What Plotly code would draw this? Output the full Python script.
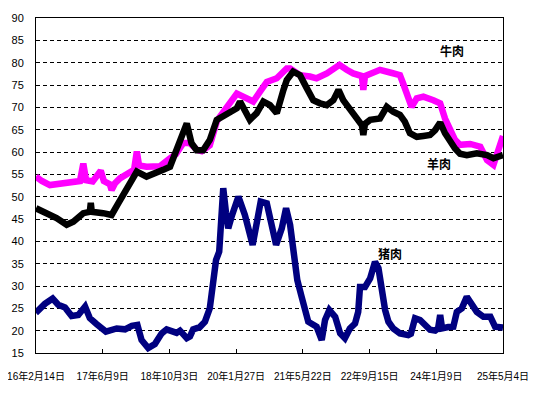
import plotly.graph_objects as go

# ---- data ----
beef_dates = ["2016-02-14","2016-03-27","2016-05-24","2016-08-26","2016-11-07","2016-12-27","2017-01-20","2017-02-09",
              "2017-03-29","2017-05-26","2017-06-17","2017-07-30","2017-08-12","2017-09-06","2017-10-11","2017-12-22",
              "2018-01-21","2018-02-10","2018-02-26","2018-04-21","2018-07-26","2018-10-07","2018-11-19","2019-01-11",
              "2019-02-28","2019-04-19","2019-05-24","2019-07-21","2019-09-11","2019-11-20","2020-02-01","2020-03-18",
              "2020-05-29","2020-07-17","2020-09-04","2020-11-15","2021-01-26","2021-02-19","2021-05-01","2021-07-12",
              "2021-08-29","2021-11-11","2021-12-28","2022-02-10","2022-04-03","2022-05-20","2022-07-22","2022-08-01",
              "2022-08-13","2022-09-19","2022-11-29","2023-02-10","2023-04-22","2023-05-13","2023-06-10","2023-07-15",
              "2023-08-21","2023-10-08","2023-12-19","2024-02-06","2024-03-12","2024-04-17","2024-05-23","2024-06-28",
              "2024-09-10","2024-11-21","2025-01-09","2025-02-24","2025-03-20","2025-04-25","2025-05-04"]
beef_values = [54.5,53.5,52.6,53.1,53.4,53.5,57.4,53.7,
               53.4,55.8,53.5,52.8,51.5,53.0,54.1,55.2,
               56.0,60.1,57.0,56.7,56.8,58.6,59.5,62.0,
               62.0,60.5,60.2,61.5,67.0,70.0,73.1,72.4,
               71.3,73.5,75.7,76.5,78.7,78.7,77.2,76.9,
               76.5,77.6,78.4,79.5,78.4,77.6,77.0,73.9,
               77.0,77.6,78.4,77.8,77.2,75.5,73.1,70.1,
               72.0,72.4,71.6,70.9,67.5,64.9,62.7,61.6,
               61.8,61.2,58.2,57.1,59.7,63.0,63.6]

mutton_dates = ["2016-02-14","2016-04-29","2016-07-11","2016-09-22","2016-11-09","2017-01-20","2017-03-08","2017-03-15",
                "2017-03-22","2017-06-12","2017-08-12","2017-09-29","2017-11-29","2018-02-10","2018-04-21","2018-07-02",
                "2018-08-19","2018-10-07","2018-11-24","2019-01-11","2019-02-05","2019-03-11","2019-04-17","2019-06-03",
                "2019-07-21","2019-09-09","2019-11-20","2020-02-01","2020-02-24","2020-05-05","2020-06-23","2020-08-10",
                "2020-09-27","2020-11-15","2021-01-02","2021-01-26","2021-03-13","2021-05-01","2021-06-19","2021-08-05",
                "2021-09-23","2021-11-11","2021-12-28","2022-02-03","2022-03-09","2022-04-26","2022-06-14","2022-07-22",
                "2022-08-01","2022-08-13","2022-09-19","2022-11-29","2023-01-17","2023-03-04","2023-04-22","2023-05-27",
                "2023-07-03","2023-08-21","2023-10-08","2023-11-25","2024-01-01","2024-02-06","2024-03-12","2024-04-17",
                "2024-05-23","2024-06-28","2024-08-16","2024-10-27","2025-01-09","2025-02-24","2025-04-13","2025-05-04"]
mutton_values = [47.4,46.4,45.2,43.7,44.4,46.3,46.6,48.6,
                 46.6,46.3,45.9,48.5,51.5,55.6,54.5,55.2,
                 56.0,56.7,60.4,64.2,66.4,62.0,60.4,60.4,
                 62.7,67.2,68.3,69.8,71.3,67.2,68.7,71.3,
                 70.5,68.7,73.9,76.1,78.0,77.2,74.3,71.6,
                 70.9,70.5,71.6,73.9,71.6,69.4,67.2,66.0,
                 63.8,66.3,67.2,67.5,70.1,69.0,68.3,66.8,
                 64.2,63.4,63.6,63.8,64.9,66.6,64.2,62.3,
                 60.8,59.6,59.3,59.7,59.3,58.6,59.1,59.3]

pork_dates = ["2016-02-14","2016-02-29","2016-04-18","2016-06-13","2016-07-23","2016-09-10","2016-10-28","2016-12-15",
              "2017-02-02","2017-03-08","2017-04-25","2017-07-02","2017-09-18","2017-11-17","2018-01-05","2018-02-14",
              "2018-03-16","2018-05-03","2018-06-20","2018-08-08","2018-09-13","2018-11-24","2018-12-18","2019-02-05",
              "2019-02-28","2019-03-23","2019-05-10","2019-06-16","2019-07-21","2019-08-15","2019-09-04","2019-09-27",
              "2019-10-10","2019-10-26","2019-11-15","2019-12-01","2019-12-26","2020-02-12","2020-03-30","2020-04-30",
              "2020-05-25","2020-06-23","2020-07-22","2020-09-04","2020-10-10","2020-11-10","2020-12-21","2021-01-21",
              "2021-02-19","2021-03-13","2021-04-12","2021-05-13","2021-06-07","2021-06-30","2021-08-29","2021-10-05",
              "2021-10-29","2021-11-29","2022-01-10","2022-02-15","2022-03-21","2022-04-26","2022-06-02","2022-06-25",
              "2022-07-08","2022-08-13","2022-09-19","2022-10-24","2022-11-18","2022-12-12","2023-01-05","2023-01-29",
              "2023-03-04","2023-04-22","2023-06-21","2023-07-10","2023-08-09","2023-09-14","2023-10-20","2023-11-25",
              "2024-01-01","2024-01-22","2024-02-06","2024-02-20","2024-04-05","2024-05-11","2024-06-05","2024-07-11",
              "2024-08-16","2024-09-22","2024-10-27","2024-12-14","2025-02-02","2025-03-08","2025-04-25","2025-05-04"]
pork_values = [25.0,24.5,26.0,27.2,25.8,25.2,23.3,23.5,
               25.4,22.8,21.5,19.8,20.5,20.3,21.1,21.3,
               17.9,16.1,17.0,19.4,20.3,19.5,20.0,18.3,
               18.7,20.3,20.8,22.0,25.0,30.6,35.8,37.7,
               43.3,51.9,46.3,42.9,45.6,50.0,45.9,42.5,
               39.2,44.0,48.9,48.5,43.7,39.2,42.9,47.4,
               43.7,37.3,31.3,27.6,24.6,22.0,20.9,17.9,
               22.4,24.6,23.1,19.4,18.3,20.5,21.6,24.2,
               29.8,29.8,31.7,35.4,34.0,29.1,24.6,22.0,
               20.5,19.4,19.0,19.3,22.8,22.4,21.3,20.2,
               20.0,20.5,23.5,20.5,20.8,20.9,24.2,25.0,
               27.6,25.8,24.2,23.1,23.1,20.9,20.5,20.7]

tick_dates = ["2016-02-14","2017-06-09","2018-10-03","2020-01-27","2021-05-22","2022-09-15","2024-01-09","2025-05-04"]
tick_labels = ["16年2月14日","17年6月9日","18年10月3日","20年1月27日","21年5月22日","22年9月15日","24年1月9日","25年5月4日"]
y_ticks = list(range(15, 91, 5))

series_names = ["牛肉", "羊肉", "猪肉"]

fig = go.Figure()
fig.add_trace(go.Scatter(x=beef_dates, y=beef_values, mode="lines", name=series_names[0],
                         line=dict(color="#FF00FF", width=6.5)))
fig.add_trace(go.Scatter(x=mutton_dates, y=mutton_values, mode="lines", name=series_names[1],
                         line=dict(color="#000000", width=6.5)))
fig.add_trace(go.Scatter(x=pork_dates, y=pork_values, mode="lines", name=series_names[2],
                         line=dict(color="#000080", width=6.5)))

lab_font = dict(family="Noto Sans CJK SC", size=12, color="#000000")
fig.add_annotation(x="2024-04-28", y=82.8, text="<b>牛肉</b>", showarrow=False, font=lab_font)
fig.add_annotation(x="2024-01-26", y=57.5, text="<b>羊肉</b>", showarrow=False, font=lab_font)
fig.add_annotation(x="2023-02-07", y=37.3, text="<b>猪肉</b>", showarrow=False, font=lab_font)

# the page body has an 8px margin, so the figure is sized to fit the window
fig.update_layout(
    width=546, height=386,
    margin=dict(l=28, r=51, t=10, b=41),
    paper_bgcolor="white", plot_bgcolor="white",
    showlegend=False,
    font=dict(family="Liberation Sans", size=11, color="#000000"),
)
fig.update_xaxes(
    type="date", range=["2016-02-14", "2025-05-04"], automargin=False,
    tickmode="array", tickvals=tick_dates, ticktext=tick_labels,
    ticks="inside", ticklen=4, tickcolor="black", tickwidth=1,
    showline=True, linecolor="black", linewidth=1, mirror=True,
    showgrid=False, zeroline=False, ticklabelstandoff=14,
    ticklabeloverflow="allow",
    tickfont=dict(family="Liberation Sans, Noto Sans CJK SC", size=10),
)
fig.update_yaxes(
    range=[15, 90], tickmode="array", tickvals=y_ticks, automargin=False,
    ticks="", showline=True, linecolor="black", linewidth=1, mirror=True,
    showgrid=True, gridcolor="black", gridwidth=1, griddash="4px,3px",
    zeroline=False, ticklabelstandoff=9,
    tickfont=dict(family="Liberation Sans", size=11),
)

fig.write_html("out.html")
